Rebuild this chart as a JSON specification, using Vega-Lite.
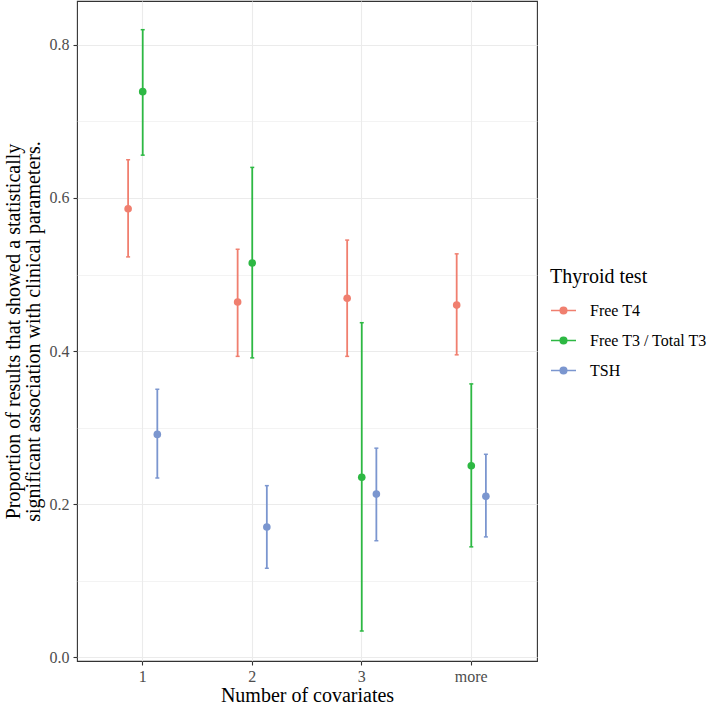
{
  "$schema": "https://vega.github.io/schema/vega-lite/v6.json",
  "width": 460,
  "height": 660,
  "autosize": {"type": "none"},
  "padding": {"left": 77, "top": 1, "right": 177, "bottom": 44},
  "background": "white",
  "config": {
    "font": "Liberation Serif",
    "view": {"stroke": "#333333", "strokeWidth": 1.1},
    "axis": {"labelFont": "Liberation Serif", "titleFont": "Liberation Serif", "titleFontWeight": "normal", "labelColor": "#4D4D4D", "titleColor": "#000000"},
    "legend": {"labelFont": "Liberation Serif", "titleFont": "Liberation Serif"}
  },
  "data": {
    "values": [
      {"cov": "1", "test": "Free T4", "est": 0.586, "lo": 0.523, "hi": 0.650},
      {"cov": "1", "test": "Free T3 / Total T3", "est": 0.739, "lo": 0.656, "hi": 0.820},
      {"cov": "1", "test": "TSH", "est": 0.291, "lo": 0.234, "hi": 0.350},
      {"cov": "2", "test": "Free T4", "est": 0.464, "lo": 0.393, "hi": 0.533},
      {"cov": "2", "test": "Free T3 / Total T3", "est": 0.515, "lo": 0.391, "hi": 0.640},
      {"cov": "2", "test": "TSH", "est": 0.170, "lo": 0.116, "hi": 0.224},
      {"cov": "3", "test": "Free T4", "est": 0.469, "lo": 0.393, "hi": 0.545},
      {"cov": "3", "test": "Free T3 / Total T3", "est": 0.235, "lo": 0.034, "hi": 0.437},
      {"cov": "3", "test": "TSH", "est": 0.213, "lo": 0.152, "hi": 0.273},
      {"cov": "more", "test": "Free T4", "est": 0.460, "lo": 0.395, "hi": 0.527},
      {"cov": "more", "test": "Free T3 / Total T3", "est": 0.250, "lo": 0.144, "hi": 0.357},
      {"cov": "more", "test": "TSH", "est": 0.210, "lo": 0.157, "hi": 0.265}
    ]
  },
  "encoding": {
    "x": {
      "field": "cov", "type": "nominal", "sort": ["1", "2", "3", "more"],
      "scale": {"paddingInner": 0, "paddingOuter": 0.1},
      "axis": {
        "title": "Number of covariates", "titleFontSize": 20, "titlePadding": 1,
        "labelFontSize": 16, "labelAngle": 0, "labelPadding": 3,
        "bandPosition": 0.5, "grid": true, "gridColor": "#EBEBEB", "gridWidth": 1.1,
        "tickColor": "#333333", "tickSize": 4, "tickWidth": 1.1, "domain": false
      }
    },
    "xOffset": {
      "field": "test", "type": "nominal", "sort": ["Free T4", "Free T3 / Total T3", "TSH"],
      "scale": {"paddingInner": 0, "paddingOuter": 0, "range": [32.86, 76.66]}
    },
    "color": {
      "field": "test", "type": "nominal", "sort": ["Free T4", "Free T3 / Total T3", "TSH"],
      "scale": {"domain": ["Free T4", "Free T3 / Total T3", "TSH"], "range": ["#F07F6F", "#2DB843", "#7B96CF"]},
      "legend": {
        "title": "Thyroid test", "orient": "none", "legendX": 473, "legendY": 266,
        "titleFont": "Liberation Serif", "titleFontSize": 20, "titleFontWeight": "normal", "titleColor": "#000000", "titlePadding": 10,
        "labelFont": "Liberation Serif", "labelFontSize": 16, "labelColor": "#000000", "labelOffset": 13,
        "symbolType": "M-1,0H1M-0.26,0A0.26,0.26,0,1,0,0.26,0A0.26,0.26,0,1,0,-0.26,0Z",
        "symbolSize": 625, "symbolStrokeWidth": 1.6, "rowPadding": 8,
        "encode": {
          "symbols": {"update": {"fill": {"scale": "color", "field": "value"}, "stroke": {"scale": "color", "field": "value"}, "opacity": {"value": 1}}},
          "labels": {"update": {"font": {"value": "Liberation Serif"}, "fontSize": {"value": 16}}},
          "title": {"update": {"font": {"value": "Liberation Serif"}}}
        }
      }
    }
  },
  "layer": [
    {
      "mark": {"type": "rule", "strokeWidth": 1.8},
      "encoding": {
        "y": {
          "field": "lo", "type": "quantitative",
          "scale": {"domain": [-0.0052, 0.8575], "nice": false, "zero": false},
          "axis": {
            "title": ["Proportion of results that showed a statistically", "significant association with clinical parameters."],
            "titleFontSize": 20, "titlePadding": 6, "titleLineHeight": 20,
            "values": [0, 0.1, 0.2, 0.3, 0.4, 0.5, 0.6, 0.7, 0.8],
            "labelExpr": "round(datum.value*10) % 2 == 0 ? format(datum.value, '.1f') : ''",
            "labelFontSize": 16, "labelPadding": 4,
            "grid": true, "gridColor": "#EBEBEB",
            "gridWidth": {"condition": {"test": "round(datum.value*10) % 2 == 0", "value": 1.1}, "value": 0.6},
            "tickColor": "#333333", "tickSize": 4, "tickWidth": 1.1,
            "tickOpacity": {"condition": {"test": "round(datum.value*10) % 2 == 0", "value": 1}, "value": 0},
            "domain": false
          }
        },
        "y2": {"field": "hi"}
      }
    },
    {
      "mark": {"type": "tick", "orient": "horizontal", "size": 4, "thickness": 1.5, "opacity": 1},
      "encoding": {"y": {"field": "lo", "type": "quantitative"}}
    },
    {
      "mark": {"type": "tick", "orient": "horizontal", "size": 4, "thickness": 1.5, "opacity": 1},
      "encoding": {"y": {"field": "hi", "type": "quantitative"}}
    },
    {
      "mark": {"type": "point", "filled": true, "size": 58, "opacity": 1},
      "encoding": {"y": {"field": "est", "type": "quantitative"}}
    }
  ]
}
